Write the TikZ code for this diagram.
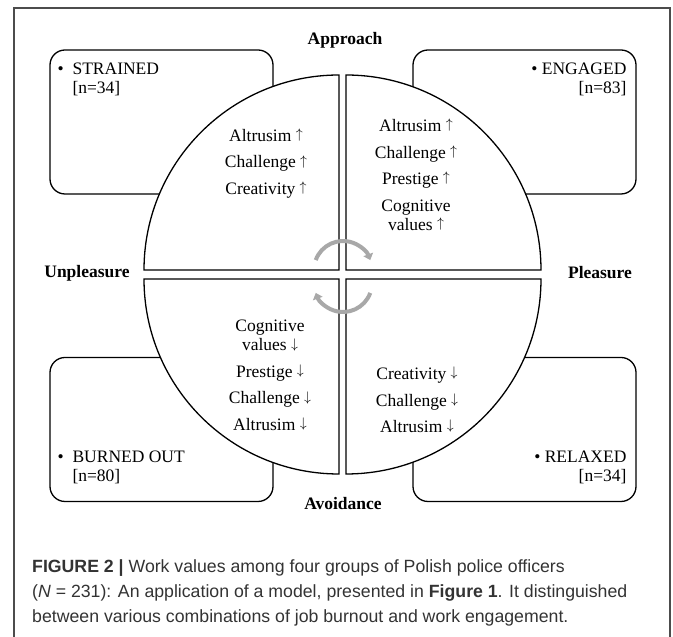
\documentclass[tikz,border=0pt]{standalone}
\usepackage{graphicx}
\usepackage{fontspec}
\setmainfont{Liberation Serif}
\newfontfamily\capfont{Liberation Sans}
\usetikzlibrary{arrows.meta}
\usetikzlibrary{positioning}
\tikzset{grp/.style={draw, rounded corners=15pt, line width=1.3pt, minimum width=223pt, minimum height=144pt, inner sep=0pt},
         quad/.style={draw, fill=white, line width=1.3pt},
         lab/.style={inner sep=0pt, font=\fontsize{17.5}{19}\selectfont},
         vals/.style={align=center, inner sep=0pt, font=\fontsize{17.5}{26.5}\selectfont},
         axis/.style={inner sep=0pt, font=\fontsize{17.5}{21}\selectfont\bfseries},
         cyc/.style={draw=gray!68, line width=4pt, -{Triangle[width=10pt,length=6pt]}}}
\newcommand\bul{\makebox[15pt][l]{\textbullet}}
\newcommand\nobul{\makebox[15pt][l]{}}
\newcommand\up{\raisebox{.15em}{\scalebox{.8}{$\uparrow$}}}
\newcommand\down{\raisebox{.15em}{\scalebox{.8}{$\downarrow$}}}

\begin{document}
\begin{tikzpicture}[x=1pt, y=1pt]
  \useasboundingbox (0,0) rectangle (673,637);
  % frame
  \draw[line width=1.3pt, black!70] (14,0) -- (14,629) -- (670,629) -- (670,0);
  % the four groups
  \node[grp] (strained) at (161.5,515) {};
  \node[grp] (engaged) at (524.5,515) {};
  \node[grp] (burned) at (161.5,207.5) {};
  \node[grp] (relaxed) at (524.5,207.5) {};
  % circle in four quarters
  \draw[quad] (339,367) -- (144,367) arc (180:90:195) -- cycle;
  \draw[quad] (346,367) -- (346,562) arc (90:0:195) -- cycle;
  \draw[quad] (339,358) -- (339,163) arc (270:180:195) -- cycle;
  \draw[quad] (346,358) -- (541,358) arc (0:-90:195) -- cycle;
  % cycle arrows
  \coordinate (hub) at (343,362);
  \coordinate (hubtop) at ([yshift=5pt]hub);
  \coordinate (hubbot) at ([yshift=-8pt]hub);
  \draw[cyc] ([shift={(160:29)}]hubtop) arc (160:20:29);
  \draw[cyc] ([shift={(-20:29)}]hubbot) arc (-20:-160:29);
  % group names
  \node[lab, anchor=north west, align=left] (strainedlab) at ([shift={(8,-13)}]strained.north west) {\bul STRAINED\\\nobul[n=34]};
  \node[lab, anchor=north east, align=right] (engagedlab) at ([shift={(-10,-13)}]engaged.north east) {\textbullet\ ENGAGED\\{}[n=83]};
  \node[lab, anchor=north west, align=left] (burnedlab) at ([shift={(8,-94)}]burned.north west) {\bul BURNED OUT\\\nobul[n=80]};
  \node[lab, anchor=north east, align=right] (relaxedlab) at ([shift={(-10,-94)}]relaxed.north east) {\textbullet\ RELAXED\\{}[n=34]};
  % values
  \node[vals] (tlvals) at (266,473.5) {Altrusim \up\\Challenge \up\\Creativity \up};
  \node[vals] (trvals) at (416,462) {Altrusim \up\\Challenge \up\\Prestige \up\\Cognitive\\[-7pt]values \up};
  \node[vals] (blvals) at (270,262) {Cognitive\\[-7pt]values \down\\Prestige \down\\Challenge \down\\Altrusim \down};
  \node[vals] (brvals) at (417,237) {Creativity \down\\Challenge \down\\Altrusim \down};
  % axes
  \node[axis] (approach) at (345,597) {Approach};
  \node[axis] (unpleasure) at (87,364) {Unpleasure};
  \node[axis] (pleasure) at (600,364) {Pleasure};
  \node[axis] (avoidance) at (343,133) {Avoidance};
  % caption
  \node[anchor=north west, align=left, inner sep=0pt, text=black!80, font=\capfont\fontsize{17.7}{25}\selectfont] (caption) at (32,78)
    {\textbf{FIGURE 2 |} Work values among four groups of Polish police officers\\(\textit{N} = 231): An application of a model, presented in \textbf{Figure 1}. It distinguished\\between various combinations of job burnout and work engagement.};
\end{tikzpicture}
\end{document}
